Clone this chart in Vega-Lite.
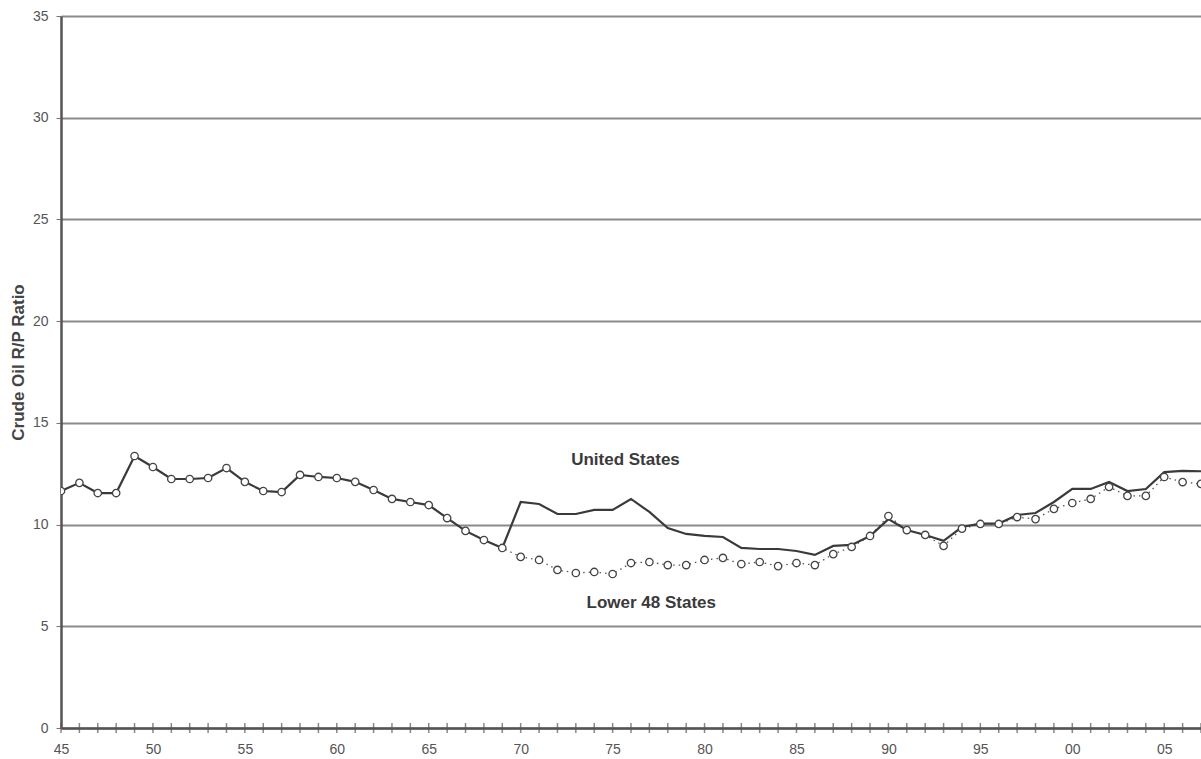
{
  "$schema": "https://vega.github.io/schema/vega-lite/v6.json",
  "width": 1140,
  "height": 712,
  "autosize": "none",
  "padding": {"left": 61, "top": 16, "right": 0, "bottom": 31},
  "background": "white",
  "config": {
    "view": {"stroke": null},
    "font": "Liberation Sans",
    "axis": {"labelFont": "Liberation Sans", "titleFont": "Liberation Sans"}
  },
  "datasets": {
    "series": [
      {"year": 1945, "us": 11.65, "l48": 11.65},
      {"year": 1946, "us": 12.05, "l48": 12.05},
      {"year": 1947, "us": 11.55, "l48": 11.55},
      {"year": 1948, "us": 11.55, "l48": 11.55},
      {"year": 1949, "us": 13.37, "l48": 13.37},
      {"year": 1950, "us": 12.83, "l48": 12.83},
      {"year": 1951, "us": 12.24, "l48": 12.24},
      {"year": 1952, "us": 12.24, "l48": 12.24},
      {"year": 1953, "us": 12.29, "l48": 12.29},
      {"year": 1954, "us": 12.78, "l48": 12.78},
      {"year": 1955, "us": 12.1, "l48": 12.1},
      {"year": 1956, "us": 11.65, "l48": 11.65},
      {"year": 1957, "us": 11.6, "l48": 11.6},
      {"year": 1958, "us": 12.44, "l48": 12.44},
      {"year": 1959, "us": 12.34, "l48": 12.34},
      {"year": 1960, "us": 12.29, "l48": 12.29},
      {"year": 1961, "us": 12.1, "l48": 12.1},
      {"year": 1962, "us": 11.7, "l48": 11.7},
      {"year": 1963, "us": 11.26, "l48": 11.26},
      {"year": 1964, "us": 11.11, "l48": 11.11},
      {"year": 1965, "us": 10.96, "l48": 10.96},
      {"year": 1966, "us": 10.32, "l48": 10.32},
      {"year": 1967, "us": 9.69, "l48": 9.69},
      {"year": 1968, "us": 9.24, "l48": 9.24},
      {"year": 1969, "us": 8.85, "l48": 8.85},
      {"year": 1970, "us": 11.11, "l48": 8.41},
      {"year": 1971, "us": 11.01, "l48": 8.26},
      {"year": 1972, "us": 10.52, "l48": 7.77},
      {"year": 1973, "us": 10.52, "l48": 7.62},
      {"year": 1974, "us": 10.72, "l48": 7.67},
      {"year": 1975, "us": 10.72, "l48": 7.57},
      {"year": 1976, "us": 11.26, "l48": 8.11},
      {"year": 1977, "us": 10.62, "l48": 8.16},
      {"year": 1978, "us": 9.83, "l48": 8.01},
      {"year": 1979, "us": 9.54, "l48": 8.01},
      {"year": 1980, "us": 9.44, "l48": 8.26},
      {"year": 1981, "us": 9.39, "l48": 8.36},
      {"year": 1982, "us": 8.85, "l48": 8.06},
      {"year": 1983, "us": 8.8, "l48": 8.16},
      {"year": 1984, "us": 8.8, "l48": 7.96},
      {"year": 1985, "us": 8.7, "l48": 8.11},
      {"year": 1986, "us": 8.51, "l48": 8.01},
      {"year": 1987, "us": 8.95, "l48": 8.55},
      {"year": 1988, "us": 9.0, "l48": 8.9},
      {"year": 1989, "us": 9.44, "l48": 9.44},
      {"year": 1990, "us": 10.27, "l48": 10.42},
      {"year": 1991, "us": 9.73, "l48": 9.73},
      {"year": 1992, "us": 9.49, "l48": 9.49},
      {"year": 1993, "us": 9.2, "l48": 8.95},
      {"year": 1994, "us": 9.88, "l48": 9.8},
      {"year": 1995, "us": 10.05, "l48": 10.03},
      {"year": 1996, "us": 10.05, "l48": 10.03},
      {"year": 1997, "us": 10.47, "l48": 10.37},
      {"year": 1998, "us": 10.57, "l48": 10.27},
      {"year": 1999, "us": 11.11, "l48": 10.77},
      {"year": 2000, "us": 11.75, "l48": 11.06},
      {"year": 2001, "us": 11.75, "l48": 11.26},
      {"year": 2002, "us": 12.09, "l48": 11.85},
      {"year": 2003, "us": 11.65, "l48": 11.41},
      {"year": 2004, "us": 11.75, "l48": 11.41},
      {"year": 2005, "us": 12.58, "l48": 12.34},
      {"year": 2006, "us": 12.64, "l48": 12.09},
      {"year": 2007, "us": 12.62, "l48": 12.0}
    ],
    "labels": [
      {"label": "United States", "year": 1975.7, "value": 13.18},
      {"label": "Lower 48 States", "year": 1977.1, "value": 6.15}
    ]
  },
  "encoding": {
    "x": {
      "field": "year",
      "type": "quantitative",
      "scale": {"domain": [1945, 2007], "nice": false, "zero": false},
      "axis": {
        "title": null,
        "values": [1945, 1950, 1955, 1960, 1965, 1970, 1975, 1980, 1985, 1990, 1995, 2000, 2005],
        "labelExpr": "(datum.value % 100) < 10 ? '0' + (datum.value % 100) : '' + (datum.value % 100)",
        "grid": false,
        "ticks": false,
        "domainColor": "#555555",
        "domainWidth": 2.5,
        "labelColor": "#555555",
        "labelFontSize": 14,
        "labelPadding": 14,
        "labelFlush": false
      }
    }
  },
  "layer": [
    {
      "data": {"name": "series"},
      "mark": {"type": "tick", "orient": "vertical", "size": 10, "thickness": 1.5, "color": "#555555"},
      "encoding": {
        "y": {"datum": 0, "type": "quantitative", "scale": {"domain": [0, 35], "nice": false},
          "axis": {
            "title": "Crude Oil R/P Ratio",
            "titleFontSize": 17,
            "titleFontWeight": "bold",
            "titleColor": "#444444",
            "titlePadding": 5,
            "titleY": 346,
            "values": [0, 5, 10, 15, 20, 25, 30, 35],
            "grid": true,
            "gridColor": "#8a8a8a",
            "gridWidth": 2,
            "domainColor": "#555555",
            "domainWidth": 2.5,
            "tickColor": "#777777",
            "tickSize": 5,
            "labelColor": "#555555",
            "labelFontSize": 14,
            "labelPadding": 8
          }
        }
      }
    },
    {
      "data": {"name": "series"},
      "mark": {"type": "line", "color": "#555555", "strokeWidth": 1.3, "strokeDash": [1.5, 4]},
      "encoding": {"y": {"field": "l48", "type": "quantitative"}}
    },
    {
      "data": {"name": "series"},
      "mark": {"type": "line", "color": "#3a3a3a", "strokeWidth": 2.2},
      "encoding": {"y": {"field": "us", "type": "quantitative"}}
    },
    {
      "data": {"name": "series"},
      "mark": {"type": "point", "shape": "circle", "filled": true, "fill": "white", "stroke": "#444444", "strokeWidth": 1.3, "size": 55, "opacity": 1, "clip": true},
      "encoding": {"y": {"field": "l48", "type": "quantitative"}}
    },
    {
      "data": {"name": "labels"},
      "mark": {"type": "text", "fontSize": 17, "fontWeight": "bold", "color": "#3a3a3a", "align": "center", "baseline": "middle"},
      "encoding": {
        "y": {"field": "value", "type": "quantitative"},
        "text": {"field": "label"}
      }
    }
  ]
}
